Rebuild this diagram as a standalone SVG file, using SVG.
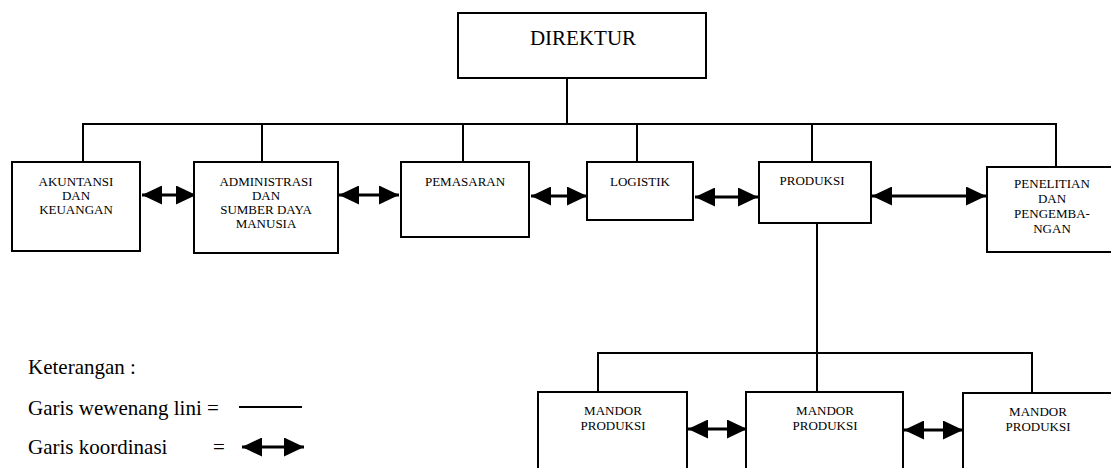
<svg xmlns="http://www.w3.org/2000/svg" width="1111" height="468" viewBox="0 0 1111 468">
<style>
  .box { fill: #ffffff; stroke: #000000; stroke-width: 2; }
  .ln { fill: none; stroke: #000000; stroke-width: 2; }
  .co { fill: none; stroke: #000000; stroke-width: 3; marker-start: url(#ah); marker-end: url(#ah); }
  .t { font-family: "Liberation Serif", "Times New Roman", serif; font-size: 13px; fill: #000000; text-anchor: middle; }
  .big { font-family: "Liberation Serif", "Times New Roman", serif; font-size: 21px; fill: #000000; }
</style>
<defs>
  <marker id="ah" viewBox="0 0 20 19" refX="20" refY="9.5" markerWidth="20" markerHeight="19" markerUnits="userSpaceOnUse" orient="auto-start-reverse">
    <path d="M0,0 L20,9.5 L0,19 z" fill="#000000"/>
  </marker>
</defs>
<rect width="1111" height="468" fill="#ffffff"/>

<g id="connectors">
  <path class="ln" d="M567,78 V124"/>
  <path class="ln" d="M83,162 V124 H1056 V167"/>
  <path class="ln" d="M262,124 V162"/>
  <path class="ln" d="M463,124 V162"/>
  <path class="ln" d="M637,124 V162"/>
  <path class="ln" d="M812,124 V162"/>
  <path class="ln" d="M817,223 V392"/>
  <path class="ln" d="M598,392 V353 H1032 V393"/>
  <line class="co" x1="142" y1="195" x2="196" y2="195"/>
  <line class="co" x1="339" y1="195" x2="399" y2="195"/>
  <line class="co" x1="531" y1="196" x2="587" y2="196"/>
  <line class="co" x1="695" y1="197" x2="758" y2="197"/>
  <line class="co" x1="872" y1="196" x2="986" y2="196"/>
  <line class="co" x1="688" y1="429" x2="747" y2="429"/>
  <line class="co" x1="904" y1="430" x2="963" y2="430"/>
</g>

<g id="direktur">
  <rect class="box" x="458" y="13" width="248" height="65"/>
  <text class="big" x="583" y="45" text-anchor="middle">DIREKTUR</text>
</g>
<g id="akuntansi">
  <rect class="box" x="12" y="162" width="128" height="89"/>
  <text class="t" x="76" y="186">AKUNTANSI</text>
  <text class="t" x="76" y="200">DAN</text>
  <text class="t" x="76" y="214">KEUANGAN</text>
</g>
<g id="administrasi">
  <rect class="box" x="194" y="162" width="144" height="91"/>
  <text class="t" x="266" y="186">ADMINISTRASI</text>
  <text class="t" x="266" y="200">DAN</text>
  <text class="t" x="266" y="214">SUMBER DAYA</text>
  <text class="t" x="266" y="228">MANUSIA</text>
</g>
<g id="pemasaran">
  <rect class="box" x="401" y="162" width="128" height="75"/>
  <text class="t" x="465" y="186">PEMASARAN</text>
</g>
<g id="logistik">
  <rect class="box" x="587" y="162" width="106" height="58"/>
  <text class="t" x="640" y="186">LOGISTIK</text>
</g>
<g id="produksi">
  <rect class="box" x="759" y="162" width="112" height="61"/>
  <text class="t" x="812" y="185">PRODUKSI</text>
</g>
<g id="penelitian">
  <rect class="box" x="987" y="167" width="128" height="85"/>
  <text class="t" x="1052" y="188">PENELITIAN</text>
  <text class="t" x="1052" y="203">DAN</text>
  <text class="t" x="1052" y="218">PENGEMBA-</text>
  <text class="t" x="1052" y="233">NGAN</text>
</g>
<g id="mandor1">
  <rect class="box" x="538" y="392" width="149" height="100"/>
  <text class="t" x="613" y="415">MANDOR</text>
  <text class="t" x="613" y="430">PRODUKSI</text>
</g>
<g id="mandor2">
  <rect class="box" x="746" y="392" width="157" height="100"/>
  <text class="t" x="825" y="415">MANDOR</text>
  <text class="t" x="825" y="430">PRODUKSI</text>
</g>
<g id="mandor3">
  <rect class="box" x="963" y="393" width="152" height="100"/>
  <text class="t" x="1038" y="416">MANDOR</text>
  <text class="t" x="1038" y="431">PRODUKSI</text>
</g>

<g id="legend">
  <text class="big" x="28" y="374">Keterangan :</text>
  <text class="big" x="28" y="415">Garis wewenang lini =</text>
  <line x1="239" y1="407" x2="302" y2="407" stroke="#000000" stroke-width="2"/>
  <text class="big" x="28" y="454">Garis koordinasi</text>
  <text class="big" x="213" y="454">=</text>
  <line class="co" x1="242" y1="447" x2="304" y2="447"/>
</g>
</svg>
